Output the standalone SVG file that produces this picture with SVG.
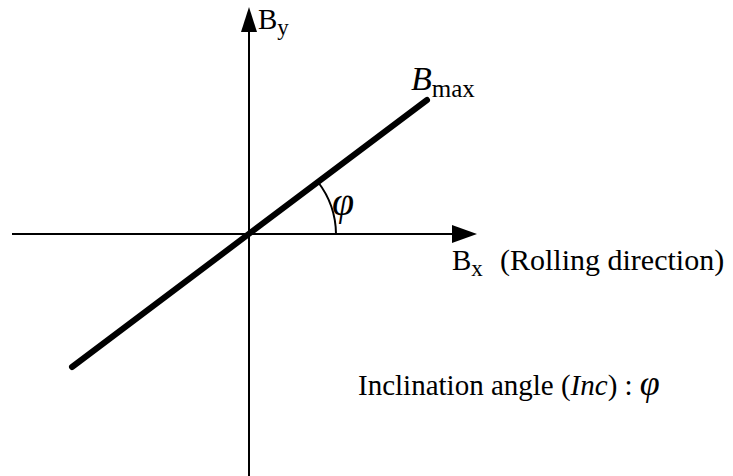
<svg xmlns="http://www.w3.org/2000/svg" width="733" height="476" viewBox="0 0 733 476">
<defs>
<style>
text{font-family:"Liberation Serif","Times New Roman",serif;fill:#000}
.ax{stroke:#000;stroke-width:2;fill:none}
.it{font-style:italic}
</style>
</defs>
<rect width="733" height="476" fill="#fff"/>
<g id="connectors">
<line class="ax" x1="12" y1="234" x2="455" y2="234"/>
<polygon points="477,234 452,225 452,243" fill="#000"/>
<line class="ax" x1="249" y1="476" x2="249" y2="28"/>
<polygon points="249,7 241,32 257,32" fill="#000"/>
<line x1="72" y1="367" x2="427" y2="100" stroke="#000" stroke-width="6" stroke-linecap="round"/>
<path class="ax" d="M318,182 A87,87 0 0 1 336,234"/>
</g>
<g id="label-by"><text x="258" y="29" font-size="29">B<tspan font-size="23" dy="6">y</tspan></text></g>
<g id="label-bmax"><text x="411" y="90" font-size="34" class="it">B<tspan font-size="25" font-style="normal" dy="7">max</tspan></text></g>
<g id="label-phi"><text x="332" y="215" font-size="40" class="it">φ</text></g>
<g id="label-bx"><text x="452" y="270" font-size="29">B<tspan font-size="23" dy="6">x</tspan></text>
<text x="500" y="270" font-size="30">(Rolling direction)</text></g>
<g id="label-inc"><text x="358" y="395" font-size="29">Inclination angle (<tspan class="it">Inc</tspan>) : <tspan class="it" font-size="36">φ</tspan></text></g>
</svg>
